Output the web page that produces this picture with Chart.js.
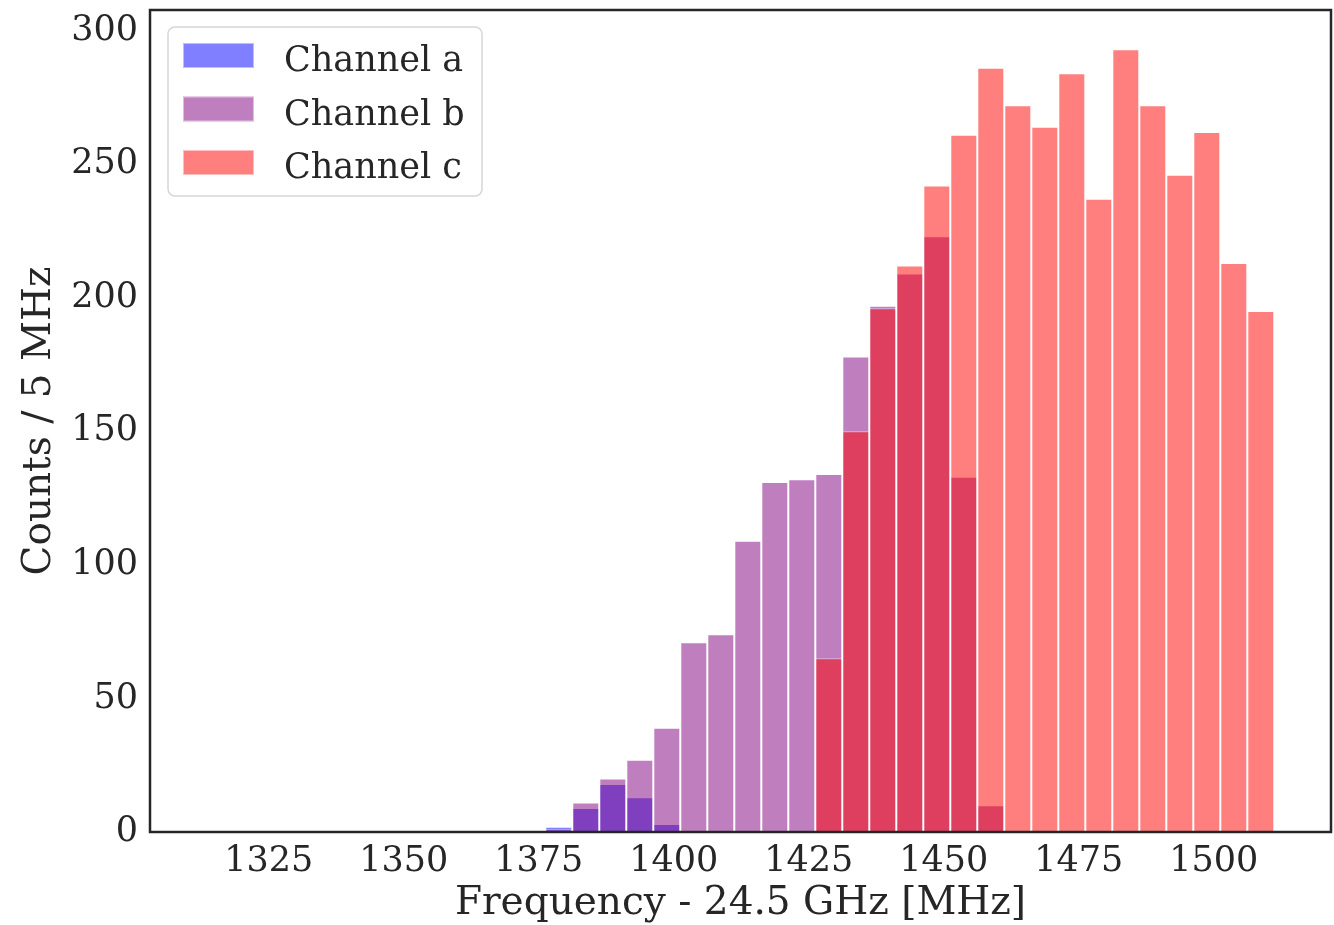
<!DOCTYPE html>
<html>
<head>
<meta charset="utf-8">
<script src="https://cdn.jsdelivr.net/npm/chart.js@4.4.1/dist/chart.umd.min.js"></script>
<style>
  html, body { margin: 0; padding: 0; background: #ffffff; }
  #wrap { width: 1334px; height: 925px; position: relative; }
</style>
</head>
<body>
<div id="wrap"><canvas id="chart"></canvas></div>
<script>
// Histogram bins (5 MHz wide), given by their centres in MHz above 24.5 GHz
const binCenters = [
  1378.7, 1383.7, 1388.7, 1393.7, 1398.7, 1403.7, 1408.7, 1413.7, 1418.7,
  1423.7, 1428.7, 1433.7, 1438.7, 1443.7, 1448.7, 1453.7, 1458.7, 1463.7,
  1468.7, 1473.7, 1478.7, 1483.7, 1488.7, 1493.7, 1498.7, 1503.7, 1508.7
];

// Counts per bin for each channel
const channelA = [2, 9, 18, 13, 3, 0, 0, 0, 0, 0, 0, 0, 0, 0, 0, 0, 0, 0, 0, 0, 0, 0, 0, 0, 0, 0, 0];
const channelB = [1, 11, 20, 27, 39, 71, 74, 109, 131, 132, 134, 178, 197, 209, 223, 133, 10, 0, 0, 0, 0, 0, 0, 0, 0, 0, 0];
const channelC = [0, 0, 0, 0, 0, 0, 0, 0, 0, 0, 65, 150, 196, 212, 242, 261, 286, 272, 264, 284, 237, 293, 272, 246, 262, 213, 195];

const seriesLabels = ['Channel a', 'Channel b', 'Channel c'];
const xTickValues = [1325, 1350, 1375, 1400, 1425, 1450, 1475, 1500];
const yTickValues = [0, 50, 100, 150, 200, 250, 300];

const TEXT = '#262626';
const SERIF = "'DejaVu Serif', serif";

function toPoints(counts) {
  return binCenters.map((x, i) => ({ x: x, y: counts[i] }));
}

function barSet(label, counts, fill, order) {
  return {
    label: label,
    data: toPoints(counts),
    backgroundColor: fill,
    borderColor: 'rgba(255,255,255,0.5)',
    borderWidth: 1,
    inflateAmount: 0,
    barPercentage: 1.0,
    categoryPercentage: 1.0,
    grouped: false,
    order: order
  };
}

// Frame around the plotting area
const framePlugin = {
  id: 'frame',
  afterDatasetsDraw(chart) {
    const { ctx, chartArea: a } = chart;
    ctx.save();
    ctx.strokeStyle = TEXT;
    ctx.lineWidth = 2.5;
    ctx.strokeRect(a.left, a.top, a.right - a.left, a.bottom - a.top);
    ctx.restore();
  }
};

// Boxed legend in the upper-left corner of the plot
const boxLegendPlugin = {
  id: 'boxLegend',
  afterDraw(chart) {
    const { ctx, chartArea: a } = chart;
    const x0 = a.left + 18, y0 = a.top + 17, w = 314, h = 169, r = 7;
    ctx.save();
    ctx.beginPath();
    ctx.roundRect(x0, y0, w, h, r);
    ctx.fillStyle = 'rgba(255,255,255,0.8)';
    ctx.fill();
    ctx.strokeStyle = 'rgba(204,204,204,0.8)';
    ctx.lineWidth = 1.5;
    ctx.stroke();
    ctx.font = '35px ' + SERIF;
    ctx.textBaseline = 'alphabetic';
    ctx.textAlign = 'left';
    chart.data.datasets.forEach((ds, i) => {
      const py = y0 + 16 + i * 53.5;
      ctx.fillStyle = ds.backgroundColor;
      ctx.fillRect(x0 + 15, py, 71, 25);
      ctx.strokeStyle = ds.borderColor;
      ctx.lineWidth = 1;
      ctx.strokeRect(x0 + 15.5, py + 0.5, 70, 24);
      ctx.fillStyle = TEXT;
      ctx.fillText(ds.label, x0 + 116, py + 28);
    });
    ctx.restore();
  }
};

new Chart(document.getElementById('chart'), {
  type: 'bar',
  data: {
    datasets: [
      barSet(seriesLabels[0], channelA, 'rgba(0,0,255,0.5)', 3),
      barSet(seriesLabels[1], channelB, 'rgba(128,0,128,0.5)', 2),
      barSet(seriesLabels[2], channelC, 'rgba(255,0,0,0.5)', 1)
    ]
  },
  options: {
    responsive: true,
    maintainAspectRatio: false,
    devicePixelRatio: 1,
    animation: false,
    layout: { padding: { top: 10, right: 3, left: 0, bottom: 0 } },
    plugins: {
      legend: { display: false },
      tooltip: { enabled: false }
    },
    scales: {
      x: {
        type: 'linear',
        offset: false,
        min: 1303.0,
        max: 1521.7,
        grid: { display: false, drawTicks: false, offset: false },
        border: { display: false },
        afterBuildTicks: (s) => { s.ticks = xTickValues.map(v => ({ value: v })); },
        afterFit: (s) => { s.height = 93; s.paddingLeft = 0; s.paddingRight = 0; },
        ticks: {
          autoSkip: false,
          maxRotation: 0,
          padding: 9,
          color: TEXT,
          font: { family: SERIF, size: 35 },
          callback: (v) => String(v)
        },
        title: {
          display: true,
          text: 'Frequency - 24.5 GHz [MHz]',
          color: TEXT,
          font: { family: SERIF, size: 39 },
          padding: { top: 0, bottom: -2 }
        }
      },
      y: {
        type: 'linear',
        min: 0,
        max: 307.65,
        grid: { display: false, drawTicks: false },
        border: { display: false },
        afterBuildTicks: (s) => { s.ticks = yTickValues.map(v => ({ value: v })); },
        afterFit: (s) => { s.width = 150; s.paddingTop = 0; s.paddingBottom = 0; },
        ticks: {
          padding: 12,
          color: TEXT,
          font: { family: SERIF, size: 35 },
          callback: (v) => String(v)
        },
        title: {
          display: true,
          text: 'Counts / 5 MHz',
          color: TEXT,
          font: { family: SERIF, size: 39 },
          padding: { top: 16, bottom: 0 }
        }
      }
    }
  },
  plugins: [framePlugin, boxLegendPlugin]
});
</script>
</body>
</html>
